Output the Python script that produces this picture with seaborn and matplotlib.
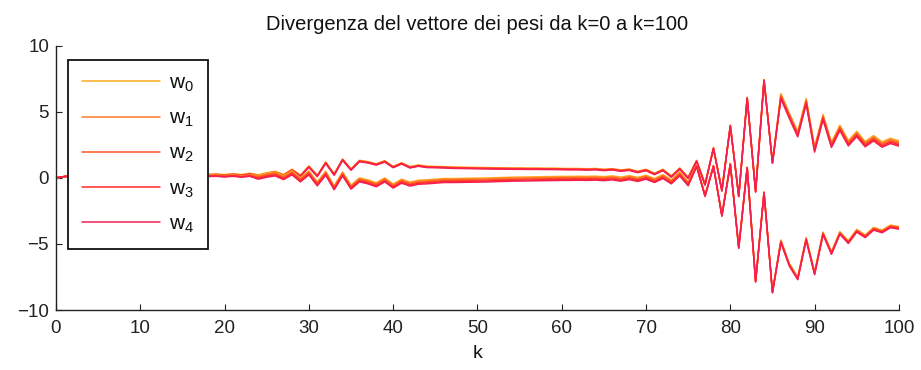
import matplotlib
matplotlib.use("Agg")
import matplotlib.pyplot as plt
import seaborn as sns
import numpy as np

# ---------------- data ----------------
k = list(range(0, 101))
labels = ["w$_0$", "w$_1$", "w$_2$", "w$_3$", "w$_4$"]
colors = ["#FFA81E", "#FF7A2A", "#FF5224", "#FF2A2A", "#F51E50"]

start_upper = [0, 0.1, 0.15, 0.17, 0.18, 0.19, 0.19, 0.2, 0.2, 0.2, 0.2, 0.21, 0.21, 0.21, 0.22, 0.22, 0.22, 0.23]
start_lower = [0, 0.1, 0.15, 0.16, 0.17, 0.17, 0.18, 0.18, 0.18, 0.18, 0.18, 0.18, 0.18, 0.18, 0.18, 0.17, 0.17, 0.16]

w0_upper = start_upper + [
    0.27, 0.3, 0.25, 0.32, 0.25, 0.35, 0.23, 0.38, 0.5, 0.25, 0.65, 0.2, 0.9, 0.2, 1.2, 0.3, 1.43, 0.68,
    1.33, 1.23, 1.07, 1.3, 0.87, 1.15, 0.85, 0.98, 0.88, 0.87, 0.85, 0.82, 0.81, 0.8, 0.79, 0.78, 0.77,
    0.76, 0.75, 0.75, 0.74, 0.74, 0.73, 0.73, 0.72, 0.71, 0.71, 0.69, 0.71, 0.65, 0.7, 0.6, 0.67, 0.5,
    0.65, 0.35, 0.65, 0.15, 0.75, 0.05, 1.33, -0.45, 2.3, -0.9, 4.0, -1.33, 6.1, -0.98, 7.45, 1.2,
    6.38, 4.9, 3.5, 6.0, 2.35, 4.8, 2.7, 3.98, 2.82, 3.52, 2.75, 3.2, 2.72, 3.0, 2.8]
w1_upper = start_upper + [
    0.24, 0.27, 0.22, 0.29, 0.22, 0.32, 0.2, 0.35, 0.47, 0.22, 0.62, 0.17, 0.87, 0.17, 1.17, 0.27, 1.4, 0.65,
    1.3, 1.2, 1.04, 1.27, 0.84, 1.12, 0.82, 0.95, 0.85, 0.84, 0.82, 0.79, 0.78, 0.77, 0.76, 0.75, 0.74,
    0.73, 0.72, 0.72, 0.71, 0.71, 0.7, 0.7, 0.69, 0.68, 0.68, 0.66, 0.68, 0.62, 0.67, 0.57, 0.64, 0.47,
    0.62, 0.32, 0.62, 0.12, 0.72, 0.02, 1.3, -0.48, 2.27, -0.93, 3.97, -1.36, 6.07, -1.01, 7.42, 1.17,
    6.28, 4.8, 3.4, 5.9, 2.25, 4.7, 2.6, 3.88, 2.72, 3.42, 2.65, 3.1, 2.62, 2.9, 2.7]
w2_upper = start_upper + [
    0.22, 0.25, 0.2, 0.27, 0.2, 0.3, 0.18, 0.33, 0.45, 0.2, 0.6, 0.15, 0.85, 0.15, 1.15, 0.25, 1.38, 0.63,
    1.28, 1.18, 1.02, 1.25, 0.82, 1.1, 0.8, 0.93, 0.83, 0.82, 0.8, 0.77, 0.76, 0.75, 0.74, 0.73, 0.72,
    0.71, 0.7, 0.7, 0.69, 0.69, 0.68, 0.68, 0.67, 0.66, 0.66, 0.64, 0.66, 0.6, 0.65, 0.55, 0.62, 0.45,
    0.6, 0.3, 0.6, 0.1, 0.7, 0.0, 1.28, -0.5, 2.25, -0.95, 3.95, -1.38, 6.05, -1.03, 7.4, 1.15,
    6.18, 4.7, 3.3, 5.8, 2.15, 4.6, 2.5, 3.78, 2.62, 3.32, 2.55, 3.0, 2.52, 2.8, 2.6]
w3_upper = start_upper + [
    0.2, 0.23, 0.18, 0.25, 0.18, 0.28, 0.16, 0.31, 0.43, 0.18, 0.58, 0.13, 0.83, 0.13, 1.13, 0.23, 1.36, 0.61,
    1.26, 1.16, 1.0, 1.23, 0.8, 1.08, 0.78, 0.91, 0.81, 0.8, 0.78, 0.75, 0.74, 0.73, 0.72, 0.71, 0.7,
    0.69, 0.68, 0.68, 0.67, 0.67, 0.66, 0.66, 0.65, 0.64, 0.64, 0.62, 0.64, 0.58, 0.63, 0.53, 0.6, 0.43,
    0.58, 0.28, 0.58, 0.08, 0.68, -0.02, 1.26, -0.52, 2.23, -0.97, 3.93, -1.4, 6.03, -1.05, 7.38, 1.13,
    6.08, 4.6, 3.2, 5.7, 2.05, 4.5, 2.4, 3.68, 2.52, 3.22, 2.45, 2.9, 2.42, 2.7, 2.5]
w4_upper = start_upper + [
    0.17, 0.2, 0.15, 0.22, 0.15, 0.25, 0.13, 0.28, 0.4, 0.15, 0.55, 0.1, 0.8, 0.1, 1.1, 0.2, 1.33, 0.58,
    1.23, 1.13, 0.97, 1.2, 0.77, 1.05, 0.75, 0.88, 0.78, 0.77, 0.75, 0.72, 0.71, 0.7, 0.69, 0.68, 0.67,
    0.66, 0.65, 0.65, 0.64, 0.64, 0.63, 0.63, 0.62, 0.61, 0.61, 0.59, 0.61, 0.55, 0.6, 0.5, 0.57, 0.4,
    0.55, 0.25, 0.55, 0.05, 0.65, -0.05, 1.23, -0.55, 2.2, -1.0, 3.9, -1.43, 6.0, -1.08, 7.35, 1.1,
    5.98, 4.5, 3.1, 5.6, 1.95, 4.4, 2.3, 3.58, 2.42, 3.12, 2.35, 2.8, 2.32, 2.6, 2.4]

w0_lower = start_lower + [
    0.2, 0.22, 0.17, 0.22, 0.15, 0.22,
    0.2, 0.35, 0.45, 0.17, 0.53, 0.0, 0.53, -0.3, 0.5, -0.6, 0.45, -0.55, 0.0, -0.15, -0.37, 0.0, -0.47,
    -0.1, -0.32, -0.18, -0.15, -0.1, -0.05, -0.05, -0.04, -0.03, -0.02, -0.01, 0.01, 0.03, 0.05, 0.06,
    0.07, 0.08, 0.09, 0.1, 0.11, 0.11, 0.12, 0.11, 0.13, 0.09, 0.15, 0.05, 0.17, 0.03, 0.2, -0.05, 0.25,
    -0.15, 0.45, -0.3,
    0.95, -1.3, 0.95, -2.8, 1.1, -5.23, 0.83, -7.78, -1.05, -8.6,
    -4.7, -6.47, -7.5, -4.52, -7.12, -4.1, -5.58, -4.07, -4.76, -3.9, -4.32, -3.75, -3.95, -3.57, -3.68]
w1_lower = start_lower + [
    0.17, 0.19, 0.14, 0.19, 0.12, 0.19,
    0.13, 0.28, 0.38, 0.1, 0.46, -0.07, 0.46, -0.37, 0.43, -0.67, 0.38, -0.62, -0.07, -0.22, -0.44, -0.07,
    -0.54, -0.17, -0.39, -0.25, -0.22, -0.17, -0.12, -0.12, -0.11, -0.1, -0.09, -0.08, -0.06, -0.04, -0.02,
    -0.01, 0.0, 0.01, 0.02, 0.03, 0.04, 0.04, 0.05, 0.04, 0.06, 0.02, 0.08, -0.02, 0.1, -0.04, 0.13, -0.12,
    0.18, -0.22, 0.38, -0.37,
    0.92, -1.33, 0.92, -2.83, 1.07, -5.26, 0.8, -7.81, -1.08, -8.63,
    -4.75, -6.52, -7.55, -4.57, -7.17, -4.15, -5.63, -4.12, -4.81, -3.95, -4.37, -3.8, -4.0, -3.62, -3.73]
w2_lower = start_lower + [
    0.15, 0.17, 0.12, 0.17, 0.1, 0.17,
    0.05, 0.2, 0.3, 0.02, 0.38, -0.15, 0.38, -0.45, 0.35, -0.75, 0.3, -0.7, -0.15, -0.3, -0.52, -0.15,
    -0.62, -0.25, -0.47, -0.33, -0.3, -0.25, -0.2, -0.2, -0.19, -0.18, -0.17, -0.16, -0.14, -0.12, -0.1,
    -0.09, -0.08, -0.07, -0.06, -0.05, -0.04, -0.04, -0.03, -0.04, -0.02, -0.06, 0.0, -0.1, 0.02, -0.12,
    0.05, -0.2, 0.1, -0.3, 0.3, -0.45,
    0.9, -1.35, 0.9, -2.85, 1.05, -5.28, 0.78, -7.83, -1.1, -8.65,
    -4.8, -6.57, -7.6, -4.62, -7.22, -4.2, -5.68, -4.17, -4.86, -4.0, -4.42, -3.85, -4.05, -3.67, -3.78]
w3_lower = start_lower + [
    0.13, 0.15, 0.1, 0.15, 0.08, 0.15,
    -0.03, 0.12, 0.22, -0.06, 0.3, -0.23, 0.3, -0.53, 0.27, -0.83, 0.22, -0.78, -0.23, -0.38, -0.6, -0.23,
    -0.7, -0.33, -0.55, -0.41, -0.38, -0.33, -0.28, -0.28, -0.27, -0.26, -0.25, -0.24, -0.22, -0.2, -0.18,
    -0.17, -0.16, -0.15, -0.14, -0.13, -0.12, -0.12, -0.11, -0.12, -0.1, -0.14, -0.08, -0.18, -0.06, -0.2,
    -0.03, -0.28, 0.02, -0.38, 0.22, -0.53,
    0.88, -1.37, 0.88, -2.87, 1.03, -5.3, 0.76, -7.85, -1.12, -8.67,
    -4.85, -6.62, -7.65, -4.67, -7.27, -4.25, -5.73, -4.22, -4.91, -4.05, -4.47, -3.9, -4.1, -3.72, -3.83]
w4_lower = start_lower + [
    0.1, 0.12, 0.07, 0.12, 0.05, 0.12,
    -0.1, 0.05, 0.15, -0.13, 0.23, -0.3, 0.23, -0.6, 0.2, -0.9, 0.15, -0.85, -0.3, -0.45, -0.67, -0.3,
    -0.77, -0.4, -0.62, -0.48, -0.45, -0.4, -0.35, -0.35, -0.34, -0.33, -0.32, -0.31, -0.29, -0.27, -0.25,
    -0.24, -0.23, -0.22, -0.21, -0.2, -0.19, -0.19, -0.18, -0.19, -0.17, -0.21, -0.15, -0.25, -0.13, -0.27,
    -0.1, -0.35, -0.05, -0.45, 0.15, -0.6,
    0.85, -1.4, 0.85, -2.9, 1.0, -5.33, 0.73, -7.88, -1.15, -8.7,
    -4.9, -6.67, -7.7, -4.72, -7.32, -4.3, -5.78, -4.27, -4.96, -4.1, -4.52, -3.95, -4.15, -3.77, -3.88]

x_ticks = [0, 10, 20, 30, 40, 50, 60, 70, 80, 90, 100]
y_ticks = [-10, -5, 0, 5, 10]
title = "Divergenza del vettore dei pesi da k=0 a k=100"
xlabel = "k"

# ---------------- style ----------------
sns.set_theme(style="white")
plt.rcParams["font.family"] = ["Liberation Sans", "DejaVu Sans"]
plt.rcParams["mathtext.fontset"] = "custom"
plt.rcParams["mathtext.rm"] = "Liberation Sans"
plt.rcParams["mathtext.it"] = "Liberation Sans"
plt.rcParams["mathtext.bf"] = "Liberation Sans:bold"
plt.rcParams["axes.unicode_minus"] = True

fig = plt.figure(figsize=(9.21, 3.70), dpi=100)
ax = fig.add_axes([0.0608, 0.162, 0.9152, 0.7145])

uppers = [w0_upper, w1_upper, w2_upper, w3_upper, w4_upper]
lowers = [w0_lower, w1_lower, w2_lower, w3_lower, w4_lower]

handles = []
for i in range(5):
    sns.lineplot(x=k, y=uppers[i], color=colors[i], linewidth=1.1, ax=ax, legend=False)
    handles.append(ax.lines[-1])
for i in range(5):
    sns.lineplot(x=k, y=lowers[i], color=colors[i], linewidth=1.1, ax=ax, legend=False)

ax.set_xlim(0, 100)
ax.set_ylim(-10, 10)
ax.set_xticks(x_ticks)
ax.set_yticks(y_ticks)
ax.tick_params(axis="both", direction="in", length=4, width=0.8, labelsize=13.5,
               colors="#222222", top=False, right=False, bottom=True, left=True)
ax.tick_params(axis="x", pad=7)
ax.tick_params(axis="y", pad=5)
for s in ["top", "right"]:
    ax.spines[s].set_visible(False)
for s in ["left", "bottom"]:
    ax.spines[s].set_color("#222222")
    ax.spines[s].set_linewidth(1.0)

ax.set_title(title, fontsize=14.5, color="#111111", pad=11)
ax.set_xlabel(xlabel, fontsize=14, color="#111111", labelpad=6)
ax.set_ylabel("")

leg = ax.legend(handles, labels, loc="upper left", bbox_to_anchor=(0.0142, 0.946),
                borderaxespad=0, fontsize=15, handlelength=3.75, handletextpad=0.45,
                labelspacing=0.72, borderpad=0.65, fancybox=False, frameon=True)
leg.get_frame().set_edgecolor("#111111")
leg.get_frame().set_linewidth(1.3)
leg.get_frame().set_facecolor("white")
leg.get_frame().set_alpha(1.0)
for t in leg.get_texts():
    t.set_color("#111111")

fig.savefig("out.png", dpi=100)
